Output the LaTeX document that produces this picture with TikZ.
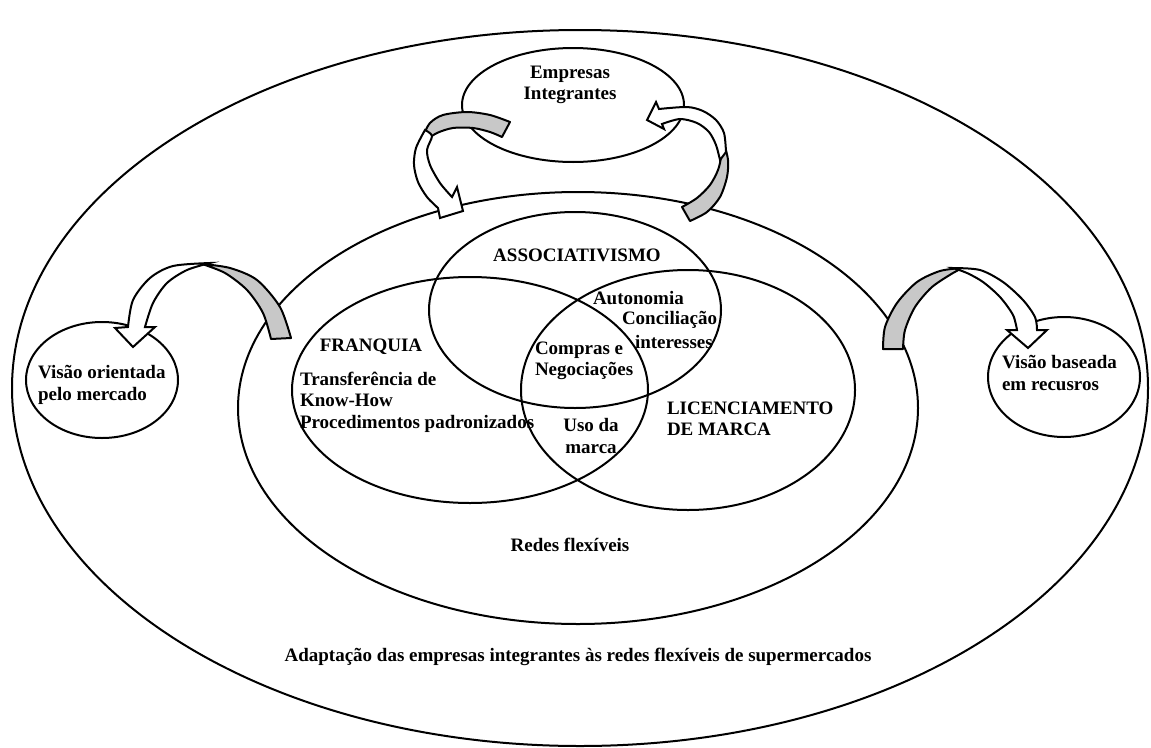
\documentclass[tikz,border=0pt]{standalone}
\usepackage{fontspec}
\setmainfont{Liberation Serif}
\usetikzlibrary{shapes.geometric}
\definecolor{bandgray}{RGB}{200,200,200}
\begin{document}
\begin{tikzpicture}[x=1pt,y=-1pt,
  every node/.style={inner sep=0pt, outer sep=0pt, font=\fontsize{19}{21.5}\selectfont\bfseries},
  ring/.style={ellipse, draw, line width=2pt},
  backband/.style={fill=bandgray, draw, line width=2pt, line join=round},
  frontband/.style={fill=white, draw, line width=2pt, line join=miter},
  txt/.style={align=left, anchor=west}]
\useasboundingbox (0,0) rectangle (1151,747);
% ellipses
\node[ring, minimum width=1136, minimum height=716] (outer) at (580,388) {};
\node[ring, minimum width=222, minimum height=114] (emp) at (573,105) {};
\node[ring, minimum width=680, minimum height=432] (redes) at (578,408) {};
\node[ring, minimum width=292, minimum height=196] (assoc) at (575,310) {};
\node[ring, minimum width=356, minimum height=226] (franq) at (470,390) {};
\node[ring, minimum width=334, minimum height=240] (lic) at (688,390) {};
\node[ring, minimum width=152, minimum height=116] (viso) at (102,380) {};
\node[ring, minimum width=152, minimum height=120] (visb) at (1064,377) {};
% curved arrow: redes -> visao orientada
\filldraw[backband] plot[smooth] coordinates {(202,264) (230,268) (257,280) (280,307) (291,338)}
  -- plot[smooth] coordinates {(271,339) (263,313) (247,290) (225,273) (202,264)} -- cycle;
\filldraw[frontband] plot[smooth] coordinates {(210,263) (173,266) (150,278) (133,300) (128,327)}
  -- (115,328) -- (133,347) -- (155,327)
  -- plot[smooth] coordinates {(145,327) (153,303) (167,283) (187,270) (210,263)} -- cycle;
% curved arrow: redes -> visao baseada
\filldraw[backband] plot[smooth] coordinates {(883,349) (885,327) (897,303) (917,282) (940,271) (962,268)}
  -- plot[smooth] coordinates {(953,273) (932,287) (915,307) (905,330) (903,349)} -- cycle;
\filldraw[frontband] plot[smooth] coordinates {(953,268) (980,270) (1003,282) (1023,300) (1035,317) (1037,330)}
  -- (1047,330) -- (1028,348) -- (1007,330)
  -- plot[smooth] coordinates {(1017,330) (1013,315) (1000,297) (983,282) (967,273) (953,268)} -- cycle;
% curved arrow: empresas -> redes
\filldraw[backband] plot[smooth] coordinates {(423,136) (430,123) (443,115) (467,112) (490,115) (510,122)}
  -- plot[smooth] coordinates {(502,137) (490,132) (473,128) (453,128) (437,133) (423,142)} -- cycle;
\filldraw[frontband] plot[smooth] coordinates {(425,130) (416,148) (414,165) (418,182) (427,197) (438,208)}
  -- (440,218) -- (463,211) -- (457,187)
  -- plot[smooth] coordinates {(452,197) (440,183) (430,165) (427,150) (432,136) (425,130)} -- cycle;
% curved arrow: redes -> empresas
\filldraw[backband] plot[smooth] coordinates {(690,221) (707,212) (720,197) (727,177) (728,160) (724,143)}
  -- plot[smooth] coordinates {(719,145) (721,156) (718,170) (710,185) (697,198) (682,207)} -- cycle;
\filldraw[frontband] plot[smooth] coordinates {(726,152) (724,133) (716,120) (703,111) (687,107) (659,109)}
  -- (656,102) -- (647,120) -- (664,129)
  -- plot[smooth] coordinates {(662,124) (680,119) (697,123) (709,132) (716,145) (720,160)} -- cycle;
% texts
\node[align=center] (tEmp) at (570,85) {Empresas\\Integrantes};
\node (tAssoc) at (577,255) {ASSOCIATIVISMO};
\node[txt] (tAut) at (593,298) {Autonomia};
\node[txt] (tConc) at (622,320) {Conciliação};
\node[txt] (tInt) at (635,342) {interesses};
\node (tFranq) at (371,347) {FRANQUIA};
\node[txt] (tTransf) at (300,402) {Transferência de\\Know-How\\Procedimentos padronizados};
\node[txt] (tCompras) at (535,361) {Compras e\\Negociações};
\node[align=center] (tUso) at (591,436) {Uso da\\marca};
\node[txt] (tLic) at (667,419) {LICENCIAMENTO\\DE MARCA};
\node (tRedes) at (570,545) {Redes flexíveis};
\node (tAdapt) at (578,657) {Adaptação das empresas integrantes às redes flexíveis de supermercados};
\node[txt] (tVisO) at (38,385) {Visão orientada\\pelo mercado};
\node[txt] (tVisB) at (1002,373) {Visão baseada\\em recusros};
\end{tikzpicture}
\end{document}
